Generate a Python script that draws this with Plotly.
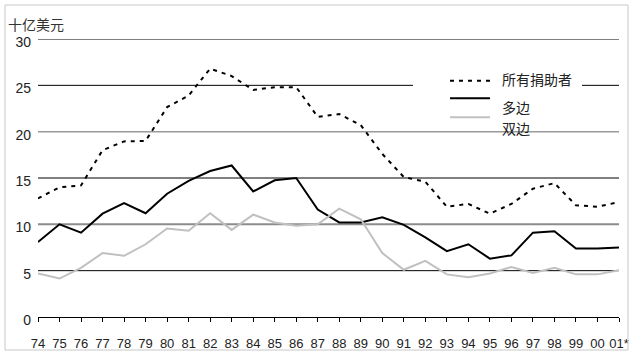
import plotly.graph_objects as go

# ---------------- data ----------------
years = ["74", "75", "76", "77", "78", "79", "80", "81", "82", "83", "84", "85", "86", "87",
         "88", "89", "90", "91", "92", "93", "94", "95", "96", "97", "98", "99", "00", "01*"]

all_donors = [12.8, 14.0, 14.2, 18.0, 18.95, 19.0, 22.65, 23.9, 26.8, 26.0, 24.5, 24.8, 24.8, 21.6,
              21.9, 20.7, 17.6, 15.1, 14.6, 11.9, 12.2, 11.15, 12.2, 13.85, 14.45, 12.05, 11.9, 12.4]

multilateral = [8.1, 10.0, 9.1, 11.15, 12.3, 11.2, 13.3, 14.7, 15.75, 16.35, 13.55, 14.75, 15.0, 11.6,
                10.2, 10.2, 10.75, 9.95, 8.6, 7.1, 7.85, 6.3, 6.65, 9.1, 9.25, 7.4, 7.4, 7.5]

bilateral = [4.7, 4.15, 5.3, 6.9, 6.6, 7.85, 9.55, 9.3, 11.2, 9.4, 11.05, 10.2, 9.85, 10.0,
             11.7, 10.55, 6.9, 5.1, 6.05, 4.6, 4.3, 4.7, 5.4, 4.75, 5.3, 4.6, 4.6, 5.05]

series_names = ["所有捐助者", "多边", "双边"]
y_ticks = [0, 5, 10, 15, 20, 25, 30]
y_title = "十亿美元"

# ---------------- layout geometry ----------------
W, H = 635, 356
L, R, T, B = 38, 16, 39, 39
PW, PH = W - L - R, H - T - B


def px_x(px):
    return (px - L) / PW


def px_y(py):
    return (H - B - py) / PH


FONT = "Liberation Sans, Arial, sans-serif"
CJK = "Noto Sans CJK SC, sans-serif"

styles = [
    dict(color="#000000", width=2, dash="4px,5px"),
    dict(color="#000000", width=2, dash="solid"),
    dict(color="#c0c0c0", width=2, dash="solid"),
]

fig = go.Figure()
for name, vals, st in zip(series_names, [all_donors, multilateral, bilateral], styles):
    fig.add_trace(go.Scatter(x=list(range(len(years))), y=vals, mode="lines", name=name,
                             line=st, showlegend=False, hoverinfo="skip"))

shapes = []
grid_style = {5: ("#000000", 1), 10: ("#8c8c8c", 2), 15: ("#000000", 1),
              20: ("#9a9a9a", 1.5), 25: ("#000000", 1), 30: ("#000000", 1)}
for v in y_ticks:
    if v == 0:
        continue
    c, w = grid_style[v]
    shapes.append(dict(type="line", xref="paper", yref="y", x0=0, x1=1, y0=v, y1=v,
                       line=dict(color=c, width=w), layer="below"))

# white legend box hiding part of gridline
shapes.append(dict(type="rect", xref="paper", yref="paper",
                   x0=px_x(413), x1=px_x(582), y0=px_y(127), y1=px_y(50),
                   fillcolor="white", line=dict(width=0), layer="below"))

# outer border
shapes.append(dict(type="rect", xref="paper", yref="paper",
                   x0=px_x(5), x1=px_x(628), y0=px_y(350), y1=px_y(5),
                   fillcolor="rgba(0,0,0,0)", line=dict(color="#c8c8c8", width=1), layer="above"))

# custom legend
leg_sample_y = [80.7, 98.3, 117.3]
leg_text_y = [79.3, 107, 127.5]
annotations = []
for name, st, sy, ty in zip(series_names, styles, leg_sample_y, leg_text_y):
    shapes.append(dict(type="line", xref="paper", yref="paper",
                       x0=px_x(450), x1=px_x(490), y0=px_y(sy), y1=px_y(sy),
                       line=st, layer="above"))
    annotations.append(dict(xref="paper", yref="paper", x=px_x(500), y=px_y(ty),
                            text=name, showarrow=False, xanchor="left", yanchor="middle",
                            font=dict(family=CJK, size=14, color="#222222")))

annotations.append(dict(xref="paper", yref="paper", x=px_x(6), y=px_y(24),
                        text=y_title, showarrow=False, xanchor="left", yanchor="middle",
                        font=dict(family=CJK, size=14, color="#333333")))

fig.update_layout(
    width=W, height=H, autosize=False,
    margin=dict(l=L, r=R, t=T, b=B, pad=0, autoexpand=False),
    paper_bgcolor="white", plot_bgcolor="white",
    shapes=shapes, annotations=annotations,
    showlegend=False,
    xaxis=dict(range=[0, len(years) - 1], tickmode="array",
               tickvals=list(range(len(years))), ticktext=years,
               showgrid=False, zeroline=False, showline=True, linecolor="#000000", linewidth=1,
               ticks="outside", ticklen=4, tickcolor="#000000", tickwidth=1,
               ticklabelstandoff=10, automargin=False,
               tickfont=dict(family=FONT, size=13, color="#222222")),
    yaxis=dict(range=[0, 30], tickmode="array", tickvals=y_ticks,
               showgrid=False, zeroline=False, showline=False, ticks="",
               ticklabelstandoff=6, ticklabelshift=3, automargin=False,
               tickfont=dict(family=FONT, size=14, color="#222222")),
)

fig.write_html("out.html", config={"displayModeBar": False},
               post_script="document.body.style.margin='0';document.body.style.padding='0';")
